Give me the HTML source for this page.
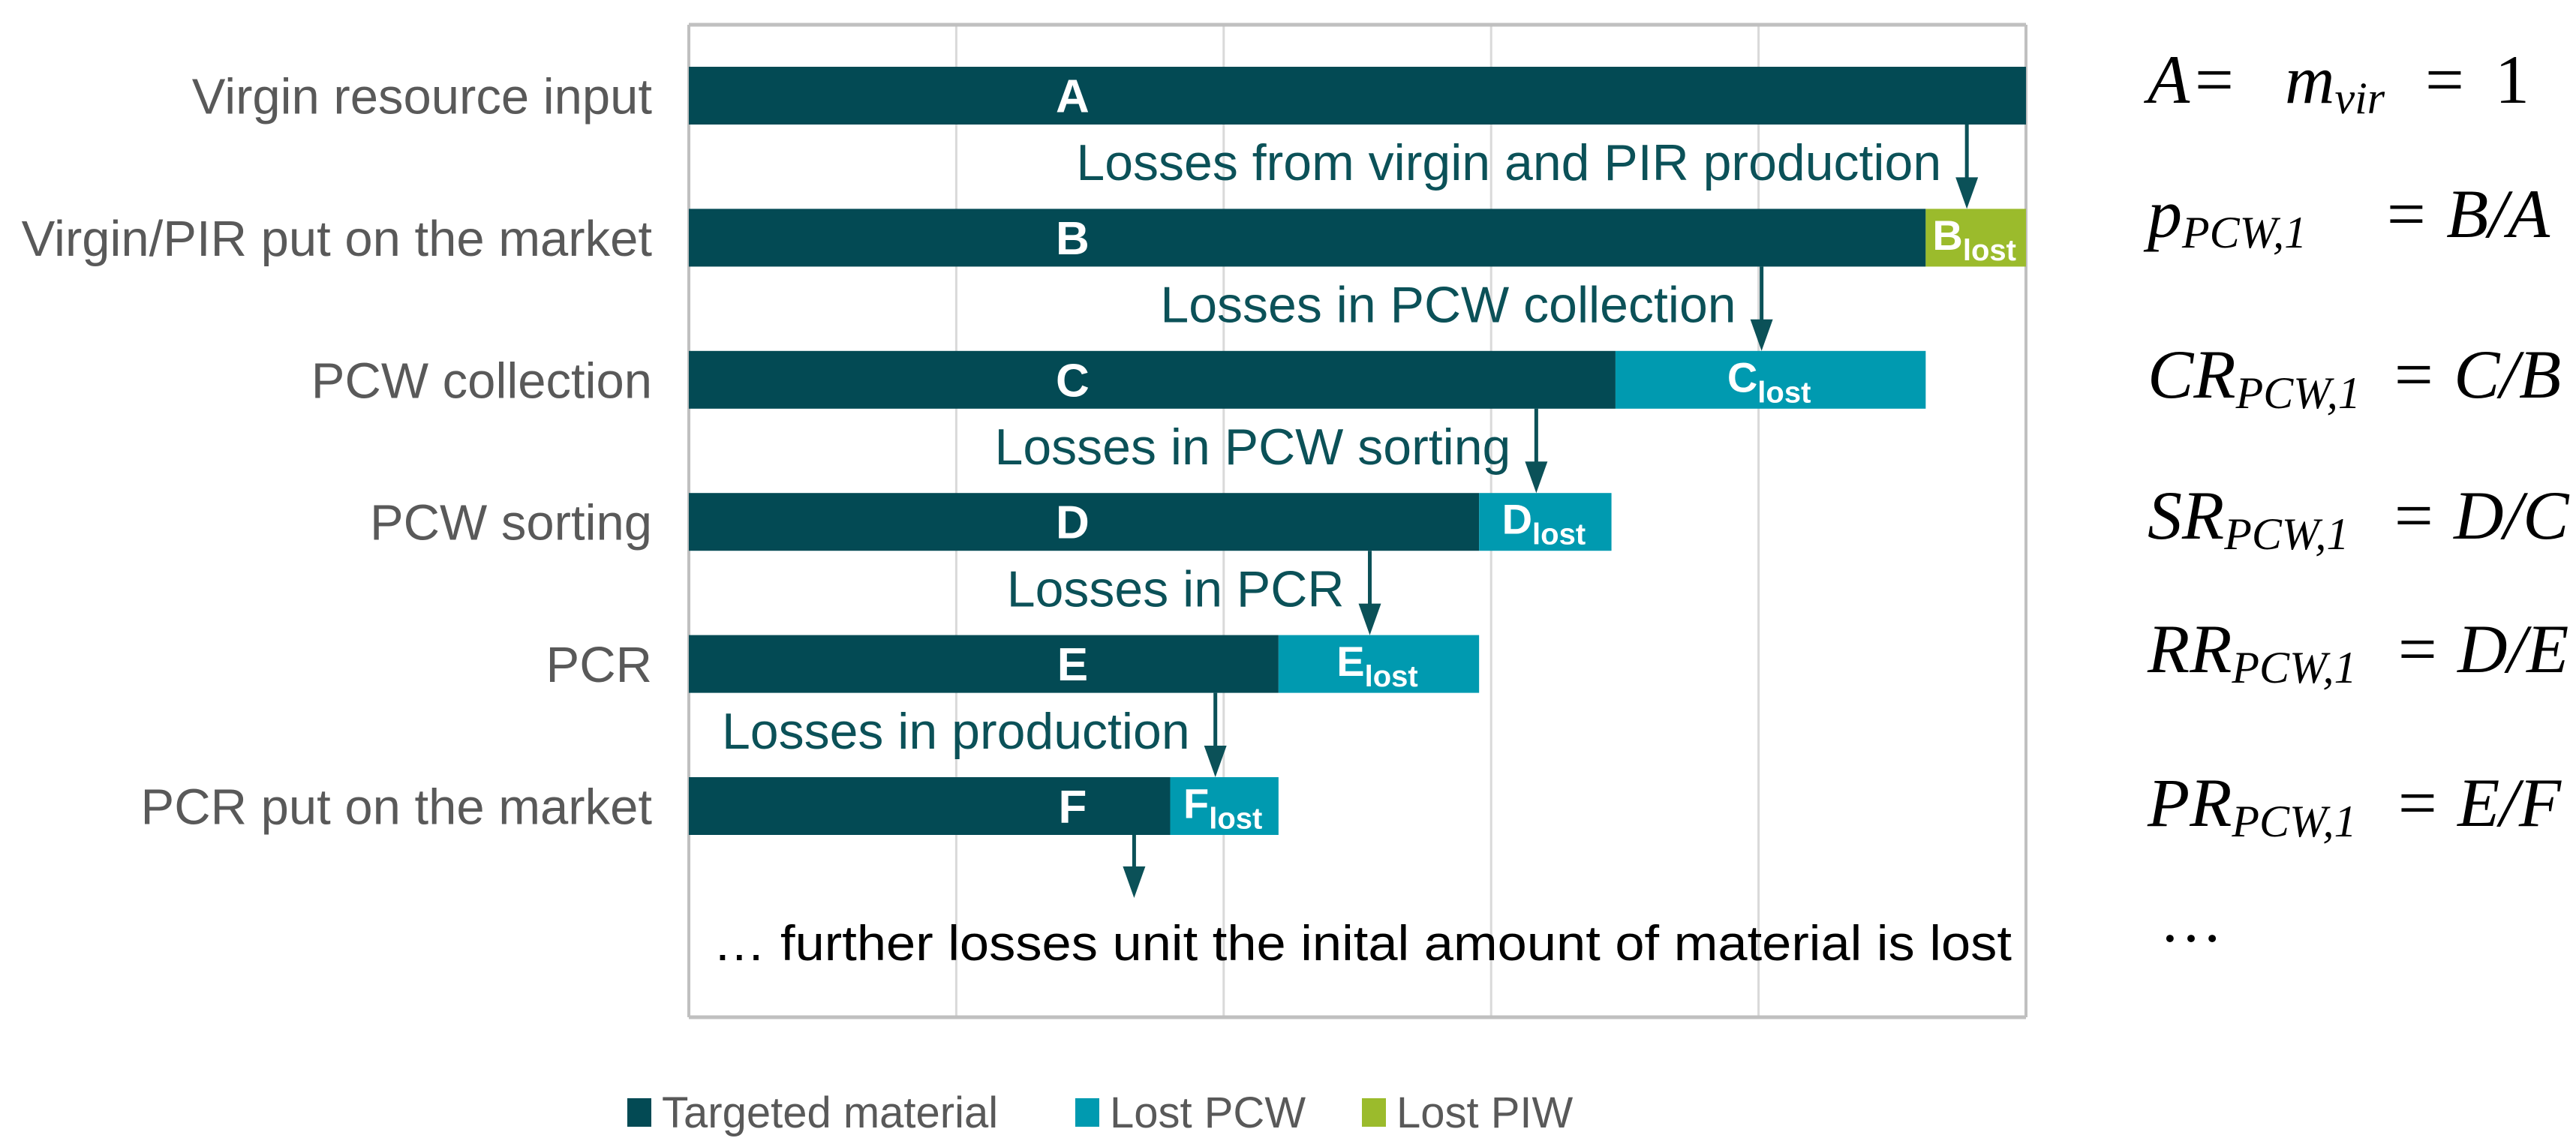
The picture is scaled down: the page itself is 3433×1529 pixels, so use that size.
<!DOCTYPE html>
<html><head><meta charset="utf-8"><style>
html,body{margin:0;padding:0;background:#fff;}
svg{display:block;}
text{font-family:"Liberation Sans",sans-serif;}
#formulas text{font-family:"Liberation Serif",serif;font-style:italic;}
</style></head><body>
<svg id="chart" width="3433" height="1529" viewBox="0 0 3433 1529" xmlns="http://www.w3.org/2000/svg">
<g id="grid"></g>
<g id="bars"></g>
<g id="labels"></g>
<g id="annot"></g>
<g id="legend"></g>
<g id="formulas" fill="#000">
  <text y="137" font-size="92"><tspan x="2862">A</tspan><tspan x="2925" font-style="normal">=</tspan><tspan x="3045">m</tspan><tspan font-size="60" dy="14">vir</tspan><tspan dy="-14" x="3232" font-style="normal">=</tspan><tspan x="3325" font-style="normal">1</tspan></text>
  <text x="2862" y="316" font-size="92">p<tspan font-size="60" dy="14">PCW,1</tspan><tspan dy="-14" x="3175">= B/A</tspan></text>
  <text x="2862" y="530" font-size="92">CR<tspan font-size="60" dy="14">PCW,1</tspan><tspan dy="-14" x="3185">= C/B</tspan></text>
  <text x="2862" y="718" font-size="92">SR<tspan font-size="60" dy="14">PCW,1</tspan><tspan dy="-14" x="3185">= D/C</tspan></text>
  <text x="2862" y="896" font-size="92">RR<tspan font-size="60" dy="14">PCW,1</tspan><tspan dy="-14" x="3190">= D/E</tspan></text>
  <text x="2862" y="1101" font-size="92">PR<tspan font-size="60" dy="14">PCW,1</tspan><tspan dy="-14" x="3190">= E/F</tspan></text>
  <text x="2878" y="1255" font-size="84" style="font-style:normal">…</text>
</g>
</svg>
<script>
const categories = ["Virgin resource input","Virgin/PIR put on the market","PCW collection","PCW sorting","PCR","PCR put on the market"];
const keptValues = [1.0, 0.925, 0.693, 0.591, 0.441, 0.360];
const lostValues = [0, 0.075, 0.232, 0.099, 0.150, 0.081];
const lostTypes = ["none","PIW","PCW","PCW","PCW","PCW"];
const barLetters = ["A","B","C","D","E","F"];
const xTicks = [0, 0.2, 0.4, 0.6, 0.8, 1.0];
const lossLabels = ["Losses from virgin and PIR production","Losses in PCW collection","Losses in PCW sorting","Losses in PCR","Losses in production"];

const NS="http://www.w3.org/2000/svg";
const X0=918, X1=2700, TOP=33, BOT=1356;
const xScale=v=>X0+v*(X1-X0);
const rowTop=i=>89+i*189.4;
const BH=77;
const COL={dark:"#034a54",PCW:"#009ab0",PIW:"#9bbb2c"};
function mk(tag,attrs,parent){const e=document.createElementNS(NS,tag);for(const k in attrs)e.setAttribute(k,attrs[k]);parent.appendChild(e);return e;}

const grid=document.getElementById('grid');
xTicks.forEach((t,i)=>{
  const l=mk('line',{x1:xScale(t),x2:xScale(t),y1:TOP,y2:BOT,stroke:(i===0||i===xTicks.length-1)?'#c0c0c0':'#d9d9d9','stroke-width':(i===0||i===xTicks.length-1)?4:3},grid);
  
  
});
const tb=mk('line',{x1:X0,x2:X1,y1:TOP,y2:TOP,stroke:'#c0c0c0','stroke-width':5},grid);


const bb=mk('line',{x1:X0,x2:X1,y1:BOT,y2:BOT,stroke:'#c0c0c0','stroke-width':5},grid);



const bars=document.getElementById('bars'), labels=document.getElementById('labels');
categories.forEach((c,i)=>{
  const y=rowTop(i);
  const r=mk('rect',{x:xScale(0),y:y,width:xScale(keptValues[i])-xScale(0),height:BH,fill:COL.dark},bars);
  
  
  const t=mk('text',{x:xScale(0.287),y:y+BH/2+22,'font-size':62,'font-weight':'bold',fill:'#fff','text-anchor':'middle'},bars);
  t.textContent=barLetters[i];
  
  
  if(lostValues[i]>0){
    const x1=xScale(keptValues[i]), x2=xScale(keptValues[i]+lostValues[i]);
    const lr=mk('rect',{x:x1,y:y,width:x2-x1,height:BH,fill:COL[lostTypes[i]]},bars);
    
    
    const lt=mk('text',{x:(x1+x2)/2-2,y:y+BH/2+16,'font-size':56,'font-weight':'bold',fill:'#fff','text-anchor':'middle'},bars);
    lt.innerHTML=barLetters[i]+'<tspan font-size="40" dy="14">lost</tspan>';
    
    
  }
  const cl=mk('text',{x:869,y:y+BH/2+24,'font-size':67,fill:'#595959','text-anchor':'end'},labels);
  cl.textContent=c;
  
  
});

const annot=document.getElementById('annot');
const AC='#0b5158';
function arrow(x,y1,y2){
  const l=mk('line',{x1:x,x2:x,y1:y1,y2:y2-38,stroke:AC,'stroke-width':5},annot);
  
  
  const p=mk('polygon',{points:`${x-15},${y2-42} ${x+15},${y2-42} ${x},${y2}`,fill:AC},annot);
  
  
}
lossLabels.forEach((s,i)=>{
  const midV=keptValues[i+1]+lostValues[i+1]/2;
  const ax=xScale(midV)-12;
  const y1=rowTop(i)+BH, y2=rowTop(i+1);
  arrow(ax,y1,y2);
  const t=mk('text',{x:ax-34,y:(y1+y2)/2+18,'font-size':68,fill:AC,'text-anchor':'end'},annot);
  t.textContent=s;
  
  
});
arrow(xScale(keptValues[5]-0.027),rowTop(5)+BH,1197);
const ft=mk('text',{x:950,y:1280,'font-size':66,fill:'#000',textLength:1731,lengthAdjust:'spacingAndGlyphs'},annot);
ft.textContent='… further losses unit the inital amount of material is lost';



const legend=document.getElementById('legend');
const legItems=[["Targeted material",COL.dark,836],["Lost PCW",COL.PCW,1433],["Lost PIW",COL.PIW,1815]];
legItems.forEach(([n,c,x])=>{
  const r=mk('rect',{x:x,y:1464,width:32,height:38,fill:c},legend);
  
  
  const t=mk('text',{x:x+46,y:1503,'font-size':58,fill:'#595959'},legend);
  t.textContent=n;
  
  
});
</script>
</body></html>
